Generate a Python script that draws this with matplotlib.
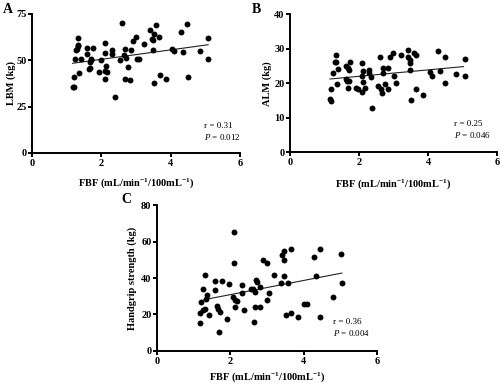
import matplotlib
matplotlib.use('Agg')
from matplotlib import pyplot as plt
import numpy as np

plt.rcParams['font.family'] = ['Liberation Serif', 'DejaVu Serif']
plt.rcParams['mathtext.fontset'] = 'custom'
plt.rcParams['mathtext.rm'] = 'Liberation Serif:bold'
plt.rcParams['mathtext.bf'] = 'Liberation Serif:bold'
plt.rcParams['mathtext.it'] = 'Liberation Serif:italic'

# panel A: LBM vs FBF
xa = [1.17, 1.20, 1.20, 1.24, 1.26, 1.30, 1.32, 1.34, 1.32, 1.36, 1.40, 1.59, 1.59, 1.63, 1.67, 1.67,
      1.69, 1.71, 1.76, 1.94, 1.98, 2.11, 2.11, 2.11, 2.11, 2.13, 2.17, 2.30, 2.32, 2.38, 2.55, 2.61,
      2.65, 2.69, 2.69, 2.71, 2.76, 2.84, 2.86, 2.92, 3.00, 3.02, 3.09, 3.22, 3.40, 3.46, 3.48, 3.50,
      3.51, 3.51, 3.59, 3.67, 3.69, 3.86, 4.05, 4.11, 4.31, 4.35, 4.48, 4.49, 4.85, 5.08, 5.08]
ya = [35.4, 35.4, 41.2, 50.8, 55.3, 56.0, 57.5, 58.0, 62.0, 43.0, 50.8, 56.9, 53.5, 45.2, 45.7, 49.2,
      50.2, 50.8, 56.9, 43.9, 50.2, 59.6, 53.9, 44.3, 40.0, 47.2, 43.6, 53.5, 55.7, 30.4, 49.9, 70.1,
      53.0, 56.0, 40.0, 51.1, 46.6, 39.4, 55.7, 60.5, 62.4, 50.8, 50.8, 58.7, 66.5, 61.5, 55.7, 61.1,
      64.2, 37.9, 69.2, 62.5, 42.1, 40.1, 56.0, 54.8, 65.2, 54.6, 69.6, 40.8, 54.8, 61.8, 50.6]
fit_a = ([1.17, 5.08], [48.4, 58.4])

# panel B: ALM vs FBF
xb = [1.16, 1.20, 1.20, 1.24, 1.30, 1.32, 1.33, 1.37, 1.39, 1.61, 1.61, 1.65, 1.67, 1.68, 1.70, 1.74,
      1.70, 1.92, 1.96, 2.10, 2.10, 2.11, 2.11, 2.10, 2.17, 2.30, 2.30, 2.34, 2.38, 2.54, 2.60, 2.65,
      2.67, 2.69, 2.71, 2.75, 2.83, 2.85, 2.90, 2.98, 3.00, 3.06, 3.23, 3.41, 3.43, 3.47, 3.49, 3.49,
      3.52, 3.58, 3.66, 3.66, 3.85, 4.05, 4.11, 4.30, 4.34, 4.48, 4.48, 4.82, 5.07, 5.07]
yb = [15.5, 14.8, 18.4, 22.9, 26.1, 28.2, 26.1, 19.8, 24.0, 24.9, 21.3, 20.5, 24.5, 18.7, 23.8, 26.1,
      20.5, 18.6, 18.3, 25.7, 22.0, 23.6, 20.4, 17.4, 18.6, 23.8, 23.0, 21.8, 12.9, 19.3, 27.5, 18.2,
      17.2, 23.0, 24.5, 19.7, 18.2, 24.5, 27.5, 28.8, 22.2, 20.1, 28.2, 29.6, 27.5, 26.7, 25.9, 23.8,
      15.2, 28.6, 28.2, 18.2, 16.6, 23.2, 22.0, 29.2, 23.6, 27.5, 20.1, 22.6, 26.9, 22.2]
fit_b = ([1.16, 5.03], [21.2, 24.8])

# panel C: handgrip strength vs FBF
xc = [1.18, 1.18, 1.21, 1.25, 1.25, 1.30, 1.32, 1.34, 1.36, 1.41, 1.59, 1.59, 1.63, 1.67, 1.71, 1.68,
      1.76, 1.92, 1.97, 2.11, 2.11, 2.08, 2.12, 2.17, 2.12, 2.32, 2.38, 2.32, 2.55, 2.61, 2.65, 2.68,
      2.68, 2.70, 2.73, 2.82, 2.88, 2.81, 3.00, 3.00, 3.06, 3.20, 3.38, 3.40, 3.46, 3.46, 3.46, 3.51,
      3.57, 3.66, 3.66, 3.84, 4.02, 4.09, 4.27, 4.33, 4.45, 4.45, 4.81, 5.03, 5.05]
yc = [15.4, 20.9, 27.0, 22.4, 33.8, 41.8, 22.8, 28.3, 30.6, 19.8, 33.4, 38.5, 24.6, 23.1, 21.3, 10.6,
      38.2, 17.8, 36.7, 65.1, 48.1, 29.7, 27.9, 27.5, 24.2, 36.0, 22.4, 31.9, 33.8, 33.8, 16.0, 23.9,
      32.3, 38.9, 37.8, 23.9, 49.9, 34.9, 48.1, 27.9, 31.9, 41.6, 37.1, 52.7, 55.0, 49.9, 41.1, 19.6,
      37.1, 55.8, 20.6, 18.7, 25.7, 25.7, 51.7, 41.1, 55.8, 18.7, 29.7, 53.0, 37.1]
fit_c = ([1.28, 5.04], [28.1, 42.7])

xlabel = r'FBF (mL/min$^{-1}$/100mL$^{-1}$)'

fig = plt.figure(figsize=(5, 3.84), dpi=100)

def panel(rect, x, y, fit, ymax, yticks, ylab, r, p, txtpos, ylabx, xlaby):
    ax = fig.add_axes(rect)
    ax.scatter(x, y, s=18, color='black', zorder=3, clip_on=False, linewidths=0)
    ax.plot(fit[0], fit[1], color='#222222', lw=0.8, zorder=2)
    ax.set_xlim(0, 6)
    ax.set_ylim(0, ymax)
    ax.set_xticks([0, 2, 4, 6])
    ax.set_yticks(yticks)
    for s in ['top', 'right']:
        ax.spines[s].set_visible(False)
    for s in ['left', 'bottom']:
        ax.spines[s].set_linewidth(1.4)
    ax.tick_params(direction='out', length=3, width=1.4, labelsize=7.5, pad=1)
    for lab in ax.get_xticklabels() + ax.get_yticklabels():
        lab.set_fontweight('bold')
    ax.set_xlabel(xlabel, fontsize=7.5, fontweight='bold')
    ax.set_ylabel(ylab, fontsize=7.5, fontweight='bold')
    ax.yaxis.set_label_coords(ylabx, 0.5)
    ax.xaxis.set_label_coords(0.5, xlaby)
    ax.text(txtpos[0], txtpos[1], 'r = ' + r, transform=ax.transAxes, fontsize=6.5, va='center')
    ax.text(txtpos[0], txtpos[1] - 0.078, r'$P$ = ' + p, transform=ax.transAxes, fontsize=6.5, va='center')
    return ax

panel([0.064, 0.6016, 0.416, 0.362], xa, ya, fit_a, 75, [0, 25, 50, 75], 'LBM (kg)',
      '0.31', '0.012', (0.827, 0.194), -0.077, -0.165)
panel([0.58, 0.604, 0.414, 0.359], xb, yb, fit_b, 40, [0, 10, 20, 30, 40], 'ALM (kg)',
      '0.25', '0.046', (0.79, 0.203), -0.087, -0.18)
panel([0.314, 0.086, 0.44, 0.380], xc, yc, fit_c, 80, [0, 20, 40, 60, 80], 'Handgrip strength (kg)',
      '0.36', '0.004', (0.80, 0.20), -0.09, -0.13)

fig.text(0.006, 0.992, 'A', fontsize=10, fontweight='bold', va='top')
fig.text(0.504, 0.992, 'B', fontsize=10, fontweight='bold', va='top')
fig.text(0.242, 0.497, 'C', fontsize=10, fontweight='bold', va='top')

fig.savefig('out.png', dpi=100)
